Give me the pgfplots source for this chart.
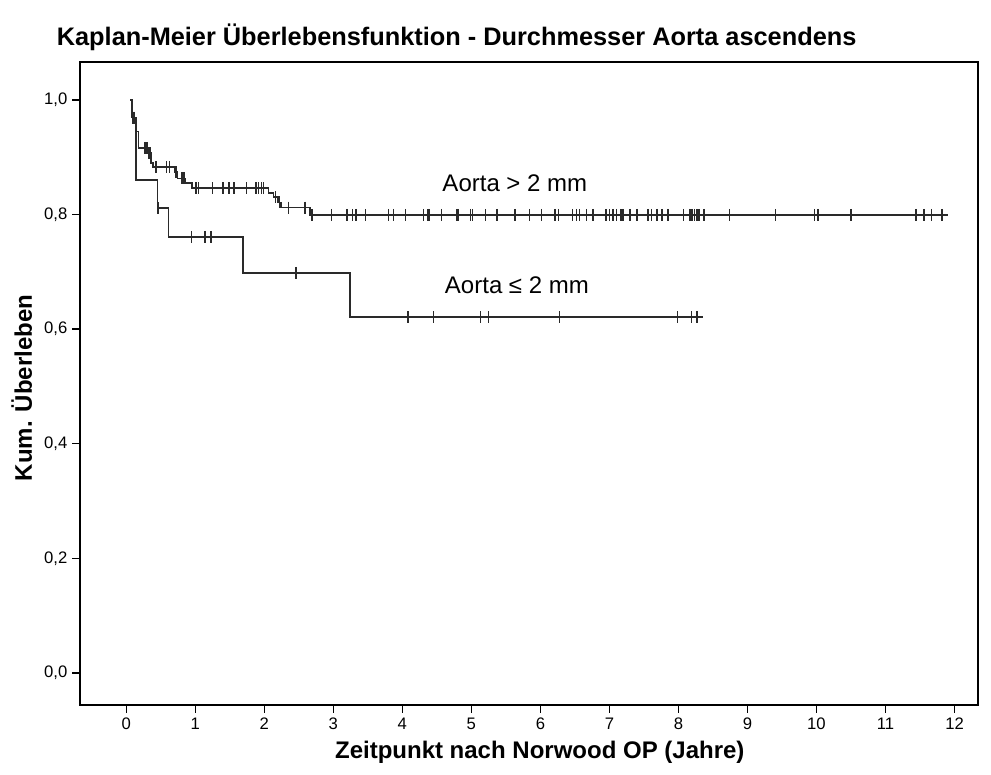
\documentclass[border=0pt]{standalone}
\usepackage{fontspec}
\setmainfont{Liberation Sans}
\usepackage{pgfplots}
\pgfplotsset{compat=1.18}

\definecolor{kmline}{HTML}{2A2A2A}

\begin{document}
\begin{tikzpicture}
\begin{axis}[
    scale only axis,
    width=673.5pt, height=482.25pt,
    xmin=-0.67, xmax=12.34,
    ymin=-0.056, ymax=1.066,
    xtick={0,1,...,12},
    ytick={0,0.2,0.4,0.6,0.8,1.0},
    tick align=outside,
    xtick pos=bottom, ytick pos=left,
    major tick length=6pt,
    tick style={black, line width=1.1pt},
    axis line style={black, line width=0.8pt},
    ticklabel style={font=\fontsize{12.5}{14}\selectfont},
    /pgf/number format/assume math mode=true,
    yticklabel style={/pgf/number format/.cd, fixed, fixed zerofill, precision=1, use comma},
    xticklabel style={/pgf/number format/.cd, fixed, precision=0},
    xlabel={\bfseries Zeitpunkt nach Norwood OP (Jahre)},
    ylabel={\bfseries Kum. Überleben},
    xlabel style={font=\fontsize{18}{20}\selectfont, at={(rel axis cs:0.512,-0.073)}, anchor=center},
    ylabel style={font=\fontsize{18}{20}\selectfont, at={(rel axis cs:-0.065,0.493)}, anchor=center},
    clip=false,
]
% Aorta > 2 mm
\addplot[const plot, kmline, line width=1.1pt, mark=none] coordinates {
(0.06,1.0) (0.08,0.969) (0.14,0.945) (0.18,0.916) (0.31,0.907) (0.36,0.890)
(0.39,0.883) (0.70,0.874) (0.74,0.863) (0.86,0.855) (0.95,0.846) (2.06,0.837)
(2.13,0.830) (2.20,0.821) (2.24,0.812) (2.66,0.799) (11.90,0.799)};
% Aorta <= 2 mm
\addplot[const plot, kmline, line width=1.1pt, mark=none] coordinates {
(0.06,1.0) (0.08,0.969) (0.14,0.860) (0.45,0.811) (0.61,0.761) (1.69,0.698)
(3.24,0.621) (8.35,0.621)};

% censored, Aorta > 2 mm
\addplot[only marks, mark=|, mark size=4.5pt, mark options={kmline, line width=1pt}] coordinates {
(0.10,0.969) (0.12,0.969) (0.27,0.916) (0.30,0.916) (0.33,0.907) (0.35,0.907)
(0.43,0.883) (0.58,0.883) (0.63,0.883) (0.72,0.874) (0.80,0.863) (0.82,0.863) (0.84,0.863)
(1.01,0.846) (1.05,0.846) (1.25,0.846) (1.40,0.846) (1.49,0.846) (1.56,0.846)
(1.74,0.846) (1.88,0.846) (1.92,0.846) (1.96,0.846) (1.99,0.846)
(2.16,0.830) (2.22,0.821) (2.35,0.812) (2.59,0.812)
(2.69,0.799) (2.97,0.799) (3.19,0.799) (3.21,0.799) (3.28,0.799) (3.33,0.799)
(3.47,0.799) (3.80,0.799) (3.87,0.799) (4.05,0.799) (4.31,0.799) (4.37,0.799)
(4.39,0.799) (4.57,0.799) (4.79,0.799) (4.81,0.799) (4.99,0.799) (5.02,0.799)
(5.20,0.799) (5.37,0.799) (5.63,0.799) (5.84,0.799) (6.02,0.799) (6.21,0.799)
(6.26,0.799) (6.47,0.799) (6.52,0.799) (6.57,0.799) (6.67,0.799) (6.76,0.799)
(6.95,0.799) (7.00,0.799) (7.05,0.799) (7.10,0.799) (7.16,0.799) (7.18,0.799)
(7.20,0.799) (7.30,0.799) (7.40,0.799) (7.56,0.799) (7.61,0.799) (7.69,0.799)
(7.76,0.799) (7.84,0.799) (7.86,0.799) (8.07,0.799) (8.16,0.799) (8.18,0.799)
(8.20,0.799) (8.23,0.799) (8.27,0.799) (8.30,0.799) (8.37,0.799) (8.74,0.799)
(9.41,0.799) (9.97,0.799) (10.01,0.799) (10.03,0.799) (10.50,0.799) (11.44,0.799)
(11.56,0.799) (11.67,0.799) (11.82,0.799)};
% censored, Aorta <= 2 mm
\addplot[only marks, mark=|, mark size=4.5pt, mark options={kmline, line width=1pt}] coordinates {
(0.46,0.811) (0.95,0.761) (1.14,0.761) (1.23,0.761) (2.46,0.698)
(4.08,0.621) (4.45,0.621) (5.13,0.621) (5.25,0.621) (6.28,0.621)
(7.99,0.621) (8.19,0.621) (8.27,0.621)};

\node[font=\fontsize{18}{20}\selectfont, text=black] at (axis cs:5.63,0.855) {Aorta > 2 mm};
\node[font=\fontsize{18}{20}\selectfont, text=black] at (axis cs:5.66,0.677) {Aorta ≤ 2 mm};

\node[font=\bfseries\fontsize{19}{22}\selectfont, anchor=west] at (rel axis cs:-0.031,1.039)
  {Kaplan-Meier Überlebensfunktion - Durchmesser Aorta ascendens};

\coordinate (bl) at (rel axis cs:-0.0891,-0.1089);
\coordinate (tr) at (rel axis cs:1.0145,1.0964);
\end{axis}
\pgfresetboundingbox
\path[use as bounding box] (bl) rectangle (tr);
\end{tikzpicture}
\end{document}
